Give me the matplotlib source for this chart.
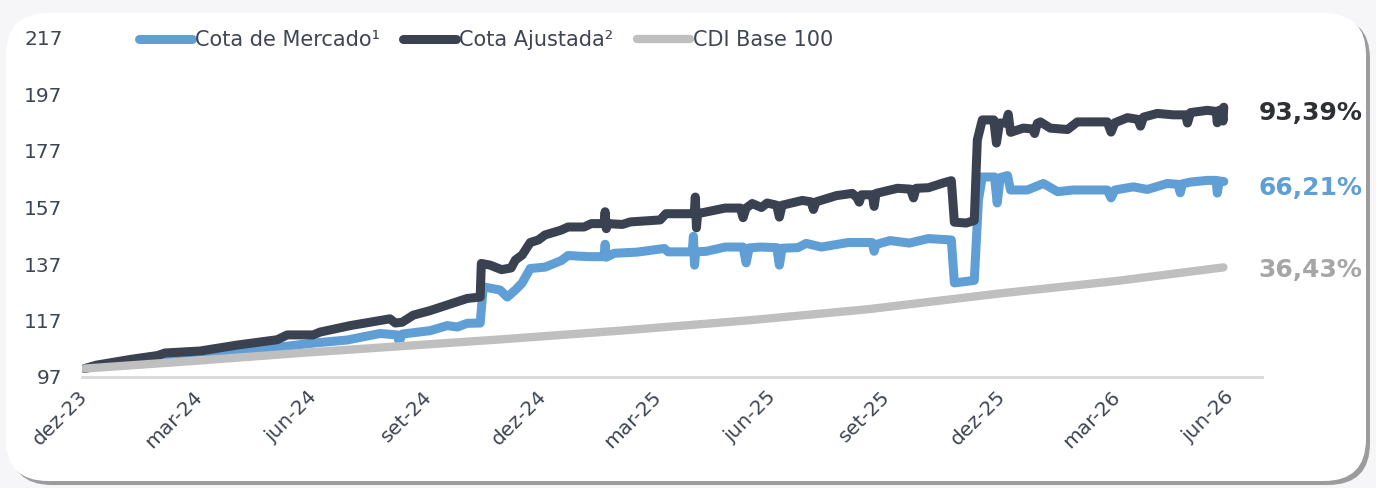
import numpy as np
import matplotlib.pyplot as plt
from matplotlib.patches import FancyBboxPatch
from matplotlib.transforms import IdentityTransform

plt.rcParams['font.family'] = ['DejaVu Sans']

# x values are months counted from dez-23
ajustada_m = [0, 0.3, 1.18, 1.9, 2.09, 3.01, 3.98, 5.03, 5.29, 5.97, 6.15, 6.94, 7.98, 8.12,
              8.3, 8.59, 9.03, 9.48, 10.0, 10.34, 10.37, 10.6, 10.9, 11.15, 11.26, 11.44, 11.65,
              11.86, 12.04, 12.46, 12.64, 13.06, 13.25, 13.58, 13.61, 13.64, 13.68, 14.06, 14.27,
              15.05, 15.2, 15.94, 15.97, 16.0, 16.03, 16.75, 17.15, 17.22, 17.3, 17.46, 17.7,
              17.85, 18.1, 18.17, 18.24, 18.77, 19.0, 19.06, 19.13, 19.66, 20.08, 20.2, 20.26,
              20.32, 20.6, 20.65, 20.7, 21.26, 21.6, 21.68, 21.75, 22.07, 22.46, 22.67, 22.75,
              23.06, 23.27, 23.35, 23.48, 23.78, 23.85, 23.93, 24.1, 24.16, 24.22, 24.55, 24.8,
              24.85, 24.92, 25.0, 25.26, 25.71, 25.97, 26.75, 26.85, 26.95, 27.28, 27.55, 27.62,
              27.7, 28.06, 28.48, 28.8, 28.85, 28.93, 29.37, 29.6, 29.63, 29.68, 29.75, 29.78,
              29.8]
ajustada_v = [100, 101.2, 103.2, 104.6, 105.5, 106.2, 108.3, 110.2, 111.9, 111.9, 112.9, 115.2,
              117.6, 116.1, 116.4, 118.9, 120.5, 122.5, 124.8, 125.3, 137.2, 136.6, 135.0, 135.6,
              138.4, 140.2, 144.6, 145.5, 147.3, 149.0, 150.1, 150.1, 151.3, 151.3, 155.5, 149.5,
              151.3, 151.0, 151.9, 152.6, 154.8, 154.8, 160.7, 149.8, 154.8, 156.8, 156.8, 153.4,
              156.8, 158.4, 157.0, 158.6, 157.8, 153.6, 157.8, 159.5, 159.0, 156.3, 159.0, 161.2,
              162.0, 160.5, 158.9, 161.5, 161.5, 157.4, 162.0, 163.8, 163.5, 160.4, 163.8, 164.0,
              165.7, 166.5, 151.8, 151.5, 152.4, 180.9, 188.0, 188.0, 179.8, 186.9, 186.9, 190.0,
              183.6, 185.1, 184.8, 183.2, 186.8, 187.3, 185.1, 184.6, 187.3, 187.3, 183.7, 187.0,
              188.8, 188.2, 185.8, 189.0, 190.3, 189.8, 189.8, 186.9, 190.6, 191.4, 191.0, 187.0,
              191.4, 191.6, 187.6, 192.5]

mercado_m = [0, 0.3, 1.18, 2.09, 3.01, 4.24, 5.1, 5.97, 6.86, 7.72, 8.17, 8.22, 8.3, 9.03,
             9.48, 9.74, 10.0, 10.34, 10.42, 10.86, 11.05, 11.15, 11.26, 11.44, 11.65, 12.04,
             12.46, 12.64, 13.17, 13.58, 13.61, 13.64, 13.85, 14.45, 15.16, 15.26, 15.89, 15.92,
             15.95, 15.98, 16.26, 16.75, 17.22, 17.3, 17.38, 17.67, 18.1, 18.17, 18.24, 18.66,
             18.87, 19.27, 19.97, 20.6, 20.65, 20.7, 21.07, 21.57, 22.07, 22.67, 22.75, 23.27,
             23.38, 23.48, 23.8, 23.87, 23.95, 24.14, 24.22, 24.66, 25.08, 25.45, 25.86, 26.75,
             26.85, 26.95, 27.43, 27.8, 28.32, 28.6, 28.66, 28.72, 28.93, 29.37, 29.6, 29.63,
             29.68, 29.8]
mercado_v = [100, 101.0, 103.0, 104.8, 105.9, 106.6, 107.6, 109.0, 110.1, 112.4, 111.9, 109.4,
             112.2, 113.4, 115.2, 114.7, 116.0, 116.1, 128.9, 127.8, 125.3, 126.5, 127.8, 130.3,
             135.4, 135.9, 138.2, 140.0, 139.6, 139.6, 144.0, 139.4, 140.8, 141.2, 142.5, 141.3,
             141.3, 146.8, 136.6, 141.3, 141.5, 143.0, 143.0, 137.4, 142.7, 143.0, 142.8, 136.6,
             142.6, 142.8, 144.3, 143.0, 144.6, 144.6, 141.5, 143.9, 145.3, 144.4, 146.0, 145.5,
             130.3, 131.2, 159.7, 167.8, 167.8, 158.6, 167.6, 168.3, 163.2, 163.2, 165.5, 162.6,
             163.2, 163.2, 160.4, 163.2, 164.3, 163.4, 165.5, 165.2, 162.2, 165.4, 166.0, 166.6,
             166.6, 162.1, 166.4, 166.2]

cdi_m = [0, 2.75, 5.63, 8.25, 10.86, 14.0, 17.4, 20.5, 23.95, 27.0, 29.79]
cdi_v = [100, 102.6, 105.5, 107.9, 110.3, 113.4, 117.1, 121.0, 126.6, 131.0, 135.8]

tick_labels = ["dez-23", "mar-24", "jun-24", "set-24", "dez-24", "mar-25",
               "jun-25", "set-25", "dez-25", "mar-26", "jun-26"]
final_labels = ["93,39%", "66,21%", "36,43%"]

blue = "#5f9fd6"
dark = "#3a4151"
grey = "#bfbfbf"
text_col = "#3e4553"

fig = plt.figure(figsize=(13.76, 4.88), dpi=100, facecolor="#f6f6f8")

# rounded card with shadow
shadow = FancyBboxPatch((10, 3), 1360, 468, boxstyle="round,pad=0,rounding_size=42",
                        transform=IdentityTransform(), facecolor="#9c9c9c", edgecolor="none",
                        zorder=-2)
card = FancyBboxPatch((6, 7), 1360, 468, boxstyle="round,pad=0,rounding_size=42",
                      transform=IdentityTransform(), facecolor="white", edgecolor="none",
                      zorder=-1)
fig.add_artist(shadow)
fig.add_artist(card)

ax = fig.add_axes([82/1376, 1-377/488, 1180/1376, 339/488])
ax.set_facecolor("none")

ax.plot(mercado_m, mercado_v, color=blue, lw=6.5, solid_capstyle="round",
        solid_joinstyle="round", label="Cota de Mercado¹", zorder=2)
ax.plot(ajustada_m, ajustada_v, color=dark, lw=6.5, solid_capstyle="round",
        solid_joinstyle="round", label="Cota Ajustada²", zorder=3)
ax.plot(cdi_m, cdi_v, color=grey, lw=6, solid_capstyle="round",
        solid_joinstyle="round", label="CDI Base 100", zorder=4)

ax.set_xlim(-0.08, 30.8)
ax.set_ylim(97, 217)
ax.set_yticks(np.arange(97, 218, 20))
ax.set_xticks(np.arange(0, 31, 3))
ax.set_xticklabels(tick_labels, rotation=45, ha="right", va="center", rotation_mode="anchor")

for s in ["top", "right", "left"]:
    ax.spines[s].set_visible(False)
ax.spines["bottom"].set_color("#d9d9d9")
ax.spines["bottom"].set_linewidth(2)
ax.tick_params(axis="y", length=0, pad=14, labelsize=14.5, labelcolor=text_col)
ax.tick_params(axis="x", length=0, pad=12, labelsize=14.5, labelcolor=text_col)

# final values
ends = [(ajustada_m[-1], ajustada_v[-1], "#2f3033", -6),
        (mercado_m[-1], mercado_v[-1], blue, -6),
        (cdi_m[-1], cdi_v[-1], "#a6a6a6", -3)]
for (xe, ye, c, dy), lab in zip(ends, final_labels):
    ax.annotate(lab, xy=(xe, ye), xytext=(35, dy), textcoords="offset pixels",
                ha="left", va="center", fontsize=18, fontweight="bold", color=c,
                annotation_clip=False)

ax.legend(loc="center", bbox_to_anchor=(486/1376, 1-40/488), bbox_transform=fig.transFigure,
          ncol=3, frameon=False, fontsize=15, handlelength=2.55, handletextpad=0.15,
          columnspacing=1.1, labelcolor=text_col)

plt.savefig("out.png", dpi=100, facecolor=fig.get_facecolor())
